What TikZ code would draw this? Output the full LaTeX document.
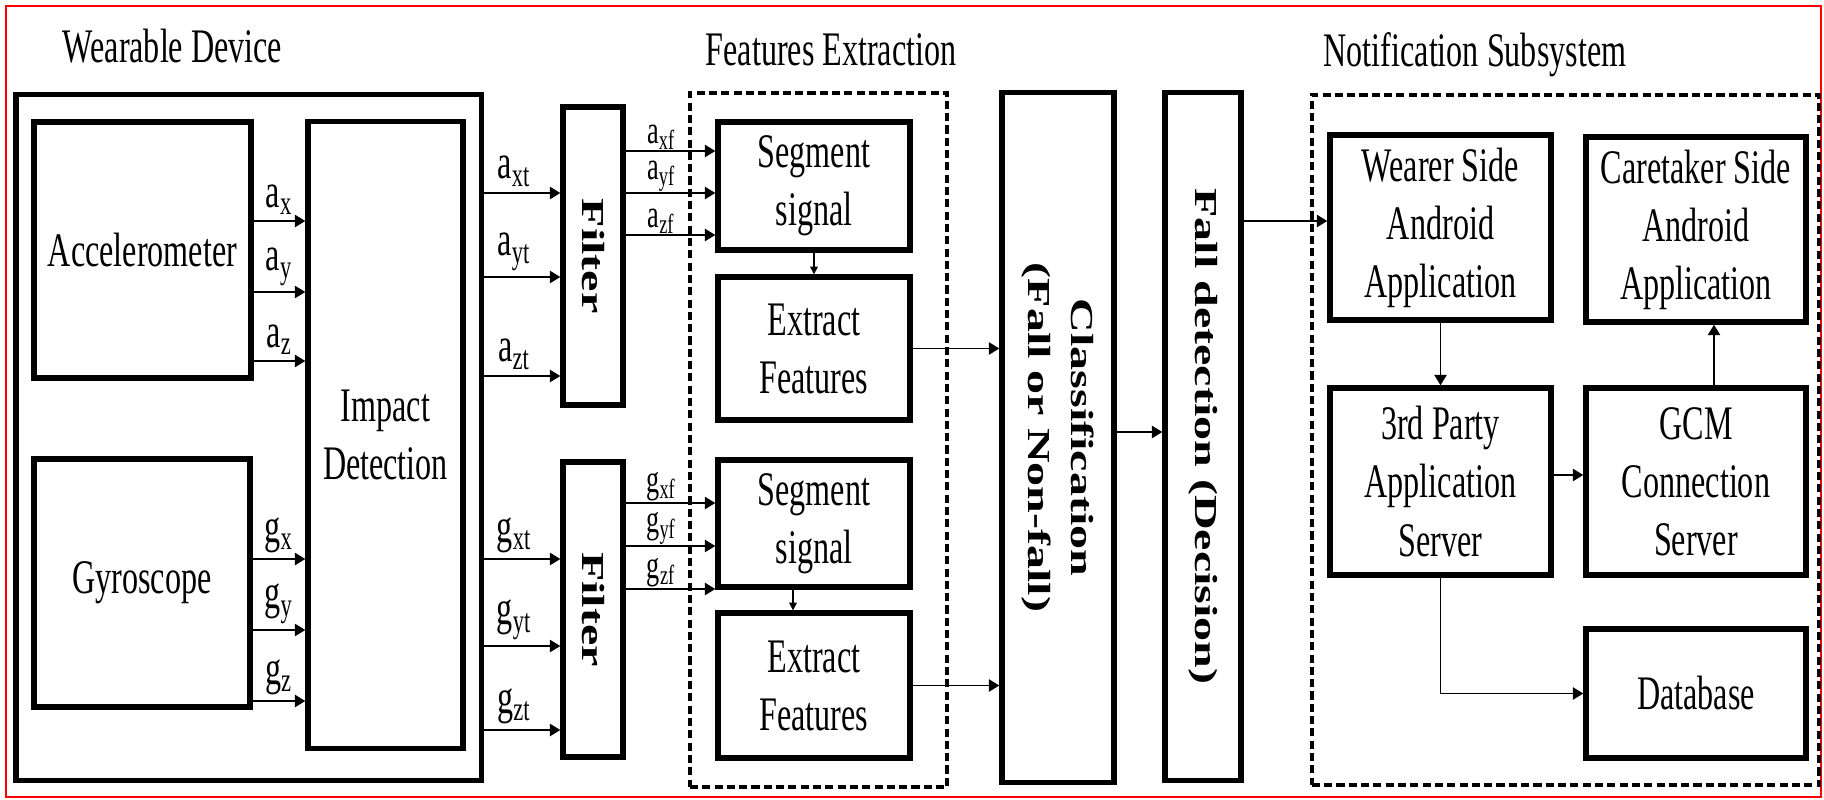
\documentclass[tikz,border=0pt]{standalone}
\usepackage{fontspec}
\setmainfont[FakeStretch=0.667]{Liberation Serif}
\newfontfamily\rotfont[FakeStretch=1.5]{Liberation Serif}
\usetikzlibrary{arrows.meta}

\tikzset{
  blk/.style={draw, line width=1.5pt, inner sep=0pt, align=center},
  grp/.style={draw, line width=1.3pt, dash pattern=on 2.3pt off 1.2pt},
  sz/.style 2 args={minimum width=#1cm, minimum height=#2cm},
  arr/.style={-{Triangle[length=3pt,width=3.5pt]}, line width=0.55pt},
  thinarr/.style={-{Triangle[length=2.2pt,width=2.2pt]}, line width=0.35pt},
  sig/.style={inner sep=1.5pt},
  fsig/.style={above, inner sep=0.2pt, pos=0.4, font=\fontsize{11.2}{13}\selectfont},
  vtxt/.style={rotate=-90, align=center, font=\rotfont\bfseries\fontsize{9.1}{12.2}\selectfont},
  ttl/.style={anchor=base west, inner sep=0pt},
}

\begin{document}
\begin{tikzpicture}[x=0.01cm, y=-0.01cm, font=\fontsize{13.7}{16.5}\selectfont]
  \useasboundingbox (0,0) rectangle (1824,800);
  \draw[red, line width=0.7pt] (6,6) rectangle (1821,797);

  %Define nodes
  \node[ttl] (t_wd) at (62,62) {Wearable Device};
  \node[ttl] (t_fe) at (705,65) {Features Extraction};
  \node[ttl] (t_ns) at (1323,66) {Notification Subsystem};

  \node[blk, sz={4.65}{6.85}] (wd) at (248.5,437.5) {};
  \node[blk, sz={2.17}{2.56}] (acc) at (142.5,250) {Accelerometer};
  \node[blk, sz={2.16}{2.48}] (gyro) at (142,583) {Gyroscope};
  \node[blk, sz={1.55}{6.26}] (imp) at (385.5,435) {Impact\\Detection};

  \node[blk, sz={0.60}{2.98}] (filt1) at (593,256) {};
  \node[vtxt] at (filt1) {Filter};
  \node[blk, sz={0.60}{2.95}] (filt2) at (593,609.5) {};
  \node[vtxt] at (filt2) {Filter};

  \node[grp, sz={2.57}{6.94}] (fe) at (818.5,440) {};
  \node[blk, sz={1.92}{1.28}] (seg1) at (814,186) {Segment\\signal};
  \node[blk, sz={1.92}{1.43}] (ext1) at (814,348.5) {Extract\\Features};
  \node[blk, sz={1.92}{1.27}] (seg2) at (814,523.5) {Segment\\signal};
  \node[blk, sz={1.92}{1.45}] (ext2) at (814,685.5) {Extract\\Features};

  \node[blk, sz={1.12}{6.89}] (cls) at (1058,437.5) {};
  \node[vtxt] at (cls) {Classification\\(Fall or Non-fall)};
  \node[blk, sz={0.76}{6.87}] (fall) at (1203,436.5) {};
  \node[vtxt] at (fall) {Fall detection (Decision)};

  \node[grp, sz={5.07}{6.90}] (ns) at (1565.5,440) {};
  \node[blk, sz={2.21}{1.85}] (wearer) at (1440.5,227.5) {Wearer Side\\Android\\Application};
  \node[blk, sz={2.20}{1.85}] (care) at (1696,229.5) {Caretaker Side\\Android\\Application};
  \node[blk, sz={2.21}{1.87}] (third) at (1440.5,481.5) {3rd Party\\Application\\Server};
  \node[blk, sz={2.20}{1.87}] (gcm) at (1696,481.5) {GCM\\Connection\\Server};
  \node[blk, sz={2.20}{1.29}] (db) at (1696,693.5) {Database};

  % Connect the nodes
  \foreach \y/\s in {221/x,292/y,361/z}
    \draw[arr] (acc.east |- 0,\y) -- node[sig, above] {a\textsubscript{\s}} (imp.west |- 0,\y);
  \foreach \y/\s in {559/x,630/y,701/z}
    \draw[arr] (gyro.east |- 0,\y) -- node[sig, above] {g\textsubscript{\s}} (imp.west |- 0,\y);
  \foreach \y/\s in {193/x,277/y,376/z}
    \draw[arr] (wd.east |- 0,\y) -- node[sig, above, pos=0.4] {a\textsubscript{\s t}} (filt1.west |- 0,\y);
  \foreach \y/\s in {559/x,646/y,730/z}
    \draw[arr] (wd.east |- 0,\y) -- node[sig, above, pos=0.4] {g\textsubscript{\s t}} (filt2.west |- 0,\y);
  \foreach \y/\s in {151/x,193/y,235/z}
    \draw[arr] (filt1.east |- 0,\y) -- node[fsig] {a\textsubscript{\s f}} (seg1.west |- 0,\y);
  \foreach \y/\s in {503/x,546/y,589/z}
    \draw[arr] (filt2.east |- 0,\y) -- node[fsig] {g\textsubscript{\s f}} (seg2.west |- 0,\y);

  \draw[thinarr] (seg1) -- (ext1);
  \draw[thinarr] ([xshift=-0.21cm]seg2.south) -- ([xshift=-0.21cm]ext2.north);
  \draw[arr] (ext1.east) -- (ext1.east -| cls.west);
  \draw[arr] (ext2.east) -- (ext2.east -| cls.west);
  \draw[arr] (cls.east |- 0,432) -- (fall.west |- 0,432);
  \draw[arr] (fall.east |- 0,221) -- (wearer.west |- 0,221);

  \draw[arr] (wearer) -- (third);
  \draw[arr] ([xshift=0.18cm]gcm.north) -- ([xshift=0.18cm]care.south);
  \draw[arr] (third.east |- 0,475) -- (gcm.west |- 0,475);
  \draw[arr] (third.south) |- (db.west);

\end{tikzpicture}
\end{document}
